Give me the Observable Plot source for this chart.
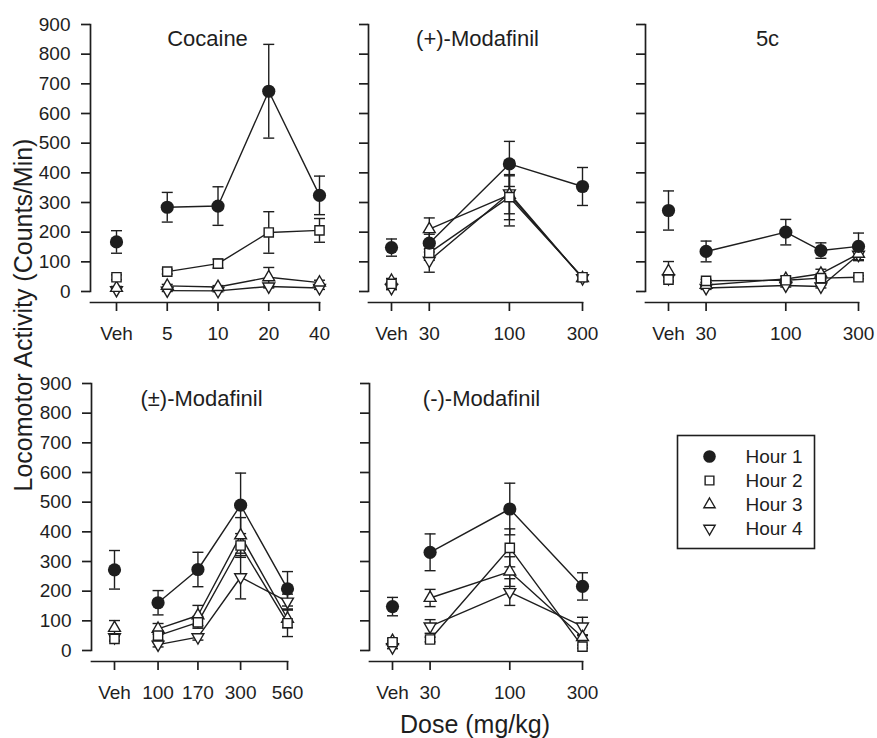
<!DOCTYPE html>
<html><head><meta charset="utf-8">
<script src="https://cdn.jsdelivr.net/npm/d3@7"></script>
<script src="https://cdn.jsdelivr.net/npm/@observablehq/plot@0.6"></script>
<style>
body{margin:0;background:#fff;}
#fig{position:relative;width:877px;height:738px;font-family:"Liberation Sans",Arial,sans-serif;color:#1e1e1e;}
#fig svg{position:absolute;}
.ttl{position:absolute;white-space:nowrap;font-size:25px;line-height:25px;}
</style></head><body><div id="fig"></div>
<script>
// ---------------- data ----------------
const hours = ["Hour 1", "Hour 2", "Hour 3", "Hour 4"];
const yTicks = [0, 100, 200, 300, 400, 500, 600, 700, 800, 900];

const cocaineDoses = ["Veh", 5, 10, 20, 40];
const cocaineTicks = [5, 10, 20, 40];
const cocaineMeans = [[167, 284, 288, 675, 324], [48, 67, 94, 199, 206], [12, 19, 15, 48, 30], [5, 3, 2, 17, 12]];
const cocaineSems  = [[38, 50, 65, 158, 65], [8, 8, 15, 70, 40], [5, 5, 5, 33, 8], [3, 3, 3, 5, 5]];

const plusDoses = ["Veh", 30, 100, 300];
const plusTicks = [30, 100, 300];
const plusMeans = [[148, 163, 430, 354], [26, 130, 318, 48], [36, 210, 326, 45], [12, 104, 331, 45]];
const plusSems  = [[29, 30, 76, 64], [5, 25, 76, 8], [8, 38, 64, 8], [6, 39, 110, 8]];

const c5Doses = ["Veh", 30, 100, 170, 300];
const c5Ticks = [30, 100, 300];
const c5Means = [[273, 135, 200, 138, 152], [40, 36, 38, 45, 48], [68, 22, 42, 60, 127], [45, 12, 20, 17, 124]];
const c5Sems  = [[66, 35, 43, 26, 45], [8, 5, 5, 5, 5], [33, 8, 10, 15, 20], [8, 5, 5, 5, 20]];

const racDoses = ["Veh", 100, 170, 300, 560];
const racTicks = [100, 170, 300, 560];
const racMeans = [[272, 161, 273, 490, 208], [39, 50, 95, 354, 92], [76, 73, 118, 388, 107], [45, 20, 45, 247, 165]];
const racSems  = [[65, 41, 58, 108, 58], [8, 15, 20, 40, 45], [25, 18, 34, 60, 30], [10, 8, 10, 73, 25]];

const minusDoses = ["Veh", 30, 100, 300];
const minusTicks = [30, 100, 300];
const minusMeans = [[148, 331, 477, 216], [28, 37, 346, 13], [32, 177, 266, 45], [11, 81, 197, 81]];
const minusSems  = [[31, 62, 87, 46], [5, 8, 64, 5], [8, 29, 50, 8], [5, 23, 45, 31]];

// ---------------- styles ----------------
const ink = "#1e1e1e";
const triangleDown = {draw(ctx, size) {
  const y = Math.sqrt(size / (Math.sqrt(3) * 3));
  ctx.moveTo(0, 2 * y); ctx.lineTo(-Math.sqrt(3) * y, -y); ctx.lineTo(Math.sqrt(3) * y, -y); ctx.closePath();
}};
const capSymbol = {draw(ctx, size) {
  const w = Math.sqrt(size / Math.PI);
  ctx.moveTo(-w, 0); ctx.lineTo(w, 0);
}};
const hourSymbols = ["circle", "square", "triangle", triangleDown];
const hourFills = [ink, "white", "white", "white"];
const hourR = [6.6, 5.2, 4.4, 4.4];

// ---------------- layout ----------------
const panels = [
  {title: "Cocaine", doses: cocaineDoses, ticks: cocaineTicks, means: cocaineMeans, sems: cocaineSems, veh: 2.5,
   left: 0, top: 0, width: 340, height: 340, mL: 90, mR: 21, mT: 24, mB: 38, inset: 26, yLabels: true, tdx: 117, tdy: 21},
  {title: "(+)-Modafinil", doses: plusDoses, ticks: plusTicks, means: plusMeans, sems: plusSems, veh: 17,
   left: 340, top: 0, width: 280, height: 340, mL: 28, mR: 38, mT: 24, mB: 38, inset: 23, yLabels: false, tdx: 109, tdy: 21},
  {title: "5c", doses: c5Doses, ticks: c5Ticks, means: c5Means, sems: c5Sems, veh: 17,
   left: 620, top: 0, width: 257, height: 340, mL: 25, mR: 19, mT: 24, mB: 38, inset: 23, yLabels: false, tdx: 122, tdy: 21},
  {title: "(\u00b1)-Modafinil", doses: racDoses, ticks: racTicks, means: racMeans, sems: racSems, veh: 56,
   left: 0, top: 340, width: 340, height: 370, mL: 91, mR: 53, mT: 43, mB: 49, inset: 23, yLabels: true, tdx: 110, tdy: 22},
  {title: "(-)-Modafinil", doses: minusDoses, ticks: minusTicks, means: minusMeans, sems: minusSems, veh: 17,
   left: 340, top: 340, width: 280, height: 370, mL: 29, mR: 38, mT: 43, mB: 49, inset: 23, yLabels: false, tdx: 112, tdy: 22}
];

const fig = document.getElementById("fig");
const baseStyle = {fontFamily: '"Liberation Sans", Arial, sans-serif', fontSize: "19px", background: "transparent", overflow: "visible", color: ink};

for (const p of panels) {
  const rows = [];
  p.means.forEach((arr, h) => arr.forEach((m, i) => rows.push({hour: hours[h], h, dose: p.doses[i], mean: m, sem: p.sems[h][i]})));
  const xv = d => d.dose === "Veh" ? p.veh : d.dose;
  const sw = 1.4;
  const svg = Plot.plot({
    width: p.width, height: p.height,
    marginLeft: p.mL, marginRight: p.mR, marginTop: p.mT, marginBottom: p.mB,
    style: baseStyle,
    x: {type: "log", domain: [p.veh, p.ticks[p.ticks.length - 1]], insetLeft: p.inset},
    y: {domain: [0, 900], insetBottom: 11},
    marks: [
      Plot.frame({anchor: "left", insetBottom: 11, stroke: ink, strokeWidth: 1.7}),
      Plot.frame({anchor: "bottom", stroke: ink, strokeWidth: 1.7}),
      Plot.axisY({ticks: yTicks, tickSize: 9, tickPadding: 11, strokeWidth: 1.7, label: null,
                  tickFormat: p.yLabels ? (d => String(d)) : (() => "")}),
      Plot.axisX({ticks: [p.veh, ...p.ticks], tickSize: 9, tickPadding: 15, strokeWidth: 1.7, label: null,
                  tickFormat: d => d === p.veh ? "Veh" : String(d)}),
      Plot.ruleX(rows, {x: xv, y1: d => d.mean - d.sem, y2: d => d.mean + d.sem, stroke: ink, strokeWidth: sw}),
      Plot.dot(rows, {x: xv, y: d => d.mean - d.sem, symbol: capSymbol, r: 5.5, fill: "none", stroke: ink, strokeWidth: sw}),
      Plot.dot(rows, {x: xv, y: d => d.mean + d.sem, symbol: capSymbol, r: 5.5, fill: "none", stroke: ink, strokeWidth: sw}),
      Plot.line(rows.filter(d => d.dose !== "Veh"), {x: xv, y: "mean", z: "hour", stroke: ink, strokeWidth: sw}),
      ...[3, 2, 1, 0].map(h => Plot.dot(rows.filter(d => d.h === h), {
        x: xv, y: "mean", symbol: hourSymbols[h], r: hourR[h], fill: hourFills[h],
        stroke: h === 0 ? "none" : ink, strokeWidth: sw})),
      Plot.text([p.title], {frameAnchor: "top-left", dx: p.tdx, dy: p.tdy, text: d => d,
                            textAnchor: "middle", lineAnchor: "bottom", fontSize: 22, fill: ink})
    ]
  });
  svg.style.left = p.left + "px";
  svg.style.top = p.top + "px";
  fig.appendChild(svg);
}

// legend
const legend = Plot.plot({
  width: 139, height: 115, margin: 1,
  style: baseStyle,
  y: {type: "point", domain: hours, range: [21, 94], padding: 0, axis: null},
  marks: [
    Plot.frame({stroke: ink, strokeWidth: 1.6}),
    ...hours.map((hr, h) => Plot.dot([hr], {y: d => d, frameAnchor: "left", dx: 32, symbol: hourSymbols[h],
        r: hourR[h] * 0.95, fill: hourFills[h], stroke: h === 0 ? "none" : ink, strokeWidth: 1.4})),
    Plot.text(hours, {y: d => d, frameAnchor: "left", dx: 68, text: d => d, textAnchor: "start", fontSize: 19, fill: ink})
  ]
});
legend.style.left = "676px";
legend.style.top = "434px";
fig.appendChild(legend);

// axis titles
const yt = document.createElement("div");
yt.className = "ttl";
yt.textContent = "Locomotor Activity (Counts/Min)";
yt.style.left = "22.5px"; yt.style.top = "315px";
yt.style.transform = "translate(-50%,-50%) rotate(-90deg)";
fig.appendChild(yt);

const xt = document.createElement("div");
xt.className = "ttl";
xt.textContent = "Dose (mg/kg)";
xt.style.left = "475px"; xt.style.top = "712px";
xt.style.transform = "translateX(-50%)";
fig.appendChild(xt);
</script></body></html>
